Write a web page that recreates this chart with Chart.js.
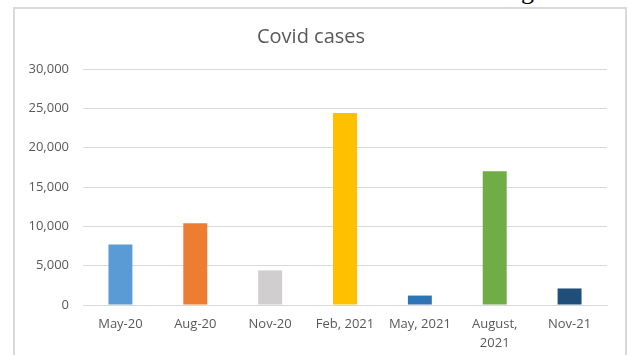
<!DOCTYPE html>
<html lang="en">
  <head>
    <meta charset="UTF-8" />
    <title>Covid cases</title>
    <style>
      body { margin: 0; background: #fff; }
      #page { position: relative; width: 628px; height: 355px; overflow: hidden; }
      #cut { position: absolute; left: 521px; top: -24px; font: 26px "Liberation Serif", serif; color: #000; }
      #box { position: absolute; left: 13px; top: 7px; width: 610px; height: 360px; border: 2px solid #d9d9d9; }
      #box canvas { position: absolute; left: 0; top: 0; }
    </style>
  </head>
  <body>
    <div id="page">
      <span id="cut">g</span>
      <div id="box"><canvas id="myChart" width="610" height="346"></canvas></div>
    </div>

    <script src="https://cdn.jsdelivr.net/npm/chart.js"></script>
    <script>
      const months = ["May-20", "Aug-20", "Nov-20", "Feb, 2021", "May, 2021", ["August,", "2021"], "Nov-21"];
      const cases = [7700, 10400, 4400, 24400, 1200, 17000, 2100];
      const barColors = ["#5b9bd5", "#ed7d31", "#d0cece", "#ffc000", "#2e75b6", "#70ad47", "#1f4e79"];

      const grey = "#595959";
      const font = "'Open Sans', sans-serif";

      const ctx = document.getElementById("myChart").getContext("2d");
      new Chart(ctx, {
        type: "bar",
        data: {
          labels: months,
          datasets: [
            {
              label: "Covid cases",
              data: cases,
              backgroundColor: barColors,
              barPercentage: 0.32,
              categoryPercentage: 1,
            },
          ],
        },
        options: {
          responsive: false,
          animation: false,
          layout: { padding: { left: 0, right: 18, top: 0, bottom: 0 } },
          plugins: {
            legend: { display: false },
            tooltip: { enabled: false },
            title: {
              display: true,
              text: "Covid cases",
              color: grey,
              font: { family: font, size: 20, weight: "normal" },
              padding: { top: 16, bottom: 20 },
            },
          },
          scales: {
            x: {
              grid: { display: false, drawTicks: false },
              border: { color: "#d9d9d9" },
              ticks: {
                color: grey,
                font: { family: font, size: 13, lineHeight: 1.45 },
                padding: 10,
                maxRotation: 0,
                autoSkip: false,
              },
              afterFit: (s) => { s.height = 50; },
            },
            y: {
              min: 0,
              max: 30000,
              ticks: {
                stepSize: 5000,
                color: grey,
                font: { family: font, size: 13 },
                padding: 14,
                callback: (v) => v.toLocaleString("en-US"),
              },
              grid: { color: "#d9d9d9", drawTicks: false },
              border: { display: false },
              afterFit: (s) => { s.width = 68; },
            },
          },
        },
      });
    </script>
  </body>
</html>
